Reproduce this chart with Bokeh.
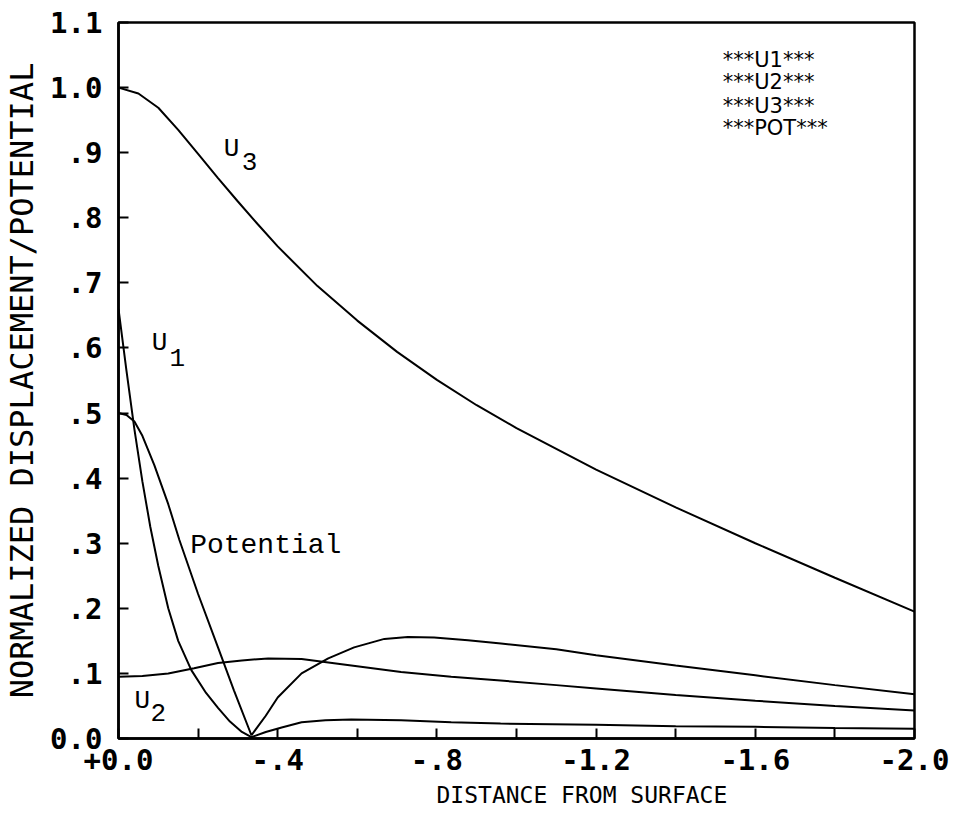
from bokeh.plotting import figure
from bokeh.models import Range1d, FixedTicker, Label, Title
from bokeh.embed import file_html
from bokeh.resources import INLINE

# ---------------- data ----------------
u3_x = [0.0, -0.05, -0.1, -0.15, -0.2, -0.25, -0.3, -0.35, -0.4, -0.5, -0.6, -0.7,
        -0.8, -0.9, -1.0, -1.2, -1.4, -1.6, -1.8, -2.0]
u3_y = [1.0, 0.991, 0.969, 0.935, 0.898, 0.861, 0.825, 0.79, 0.756, 0.695, 0.642, 0.594,
        0.551, 0.512, 0.477, 0.413, 0.355, 0.30, 0.247, 0.195]

pot_x = [0.0, -0.02, -0.04, -0.06, -0.09, -0.125, -0.153, -0.2, -0.25, -0.29, -0.334,
         -0.37, -0.40, -0.46, -0.527, -0.592, -0.668, -0.727, -0.793, -0.878, -0.961,
         -1.1, -1.2, -1.4, -1.6, -1.8, -2.0]
pot_y = [0.5, 0.497, 0.487, 0.465, 0.42, 0.36, 0.305, 0.222, 0.14, 0.074, 0.005,
         0.035, 0.063, 0.10, 0.123, 0.14, 0.153, 0.156, 0.155, 0.151, 0.146,
         0.137, 0.128, 0.112, 0.097, 0.082, 0.068]

u1_x = [0.0, -0.02, -0.04, -0.06, -0.08, -0.10, -0.125, -0.15, -0.183, -0.22, -0.25,
        -0.28, -0.31, -0.334, -0.37, -0.41, -0.46, -0.52, -0.585, -0.71, -0.836,
        -0.96, -1.2, -1.4, -1.6, -1.8, -2.0]
u1_y = [0.66, 0.565, 0.475, 0.395, 0.325, 0.265, 0.2, 0.15, 0.105, 0.07, 0.047,
        0.026, 0.01, 0.002, 0.01, 0.017, 0.025, 0.028, 0.029, 0.028, 0.025,
        0.023, 0.021, 0.019, 0.018, 0.016, 0.015]

u2_x = [0.0, -0.06, -0.125, -0.19, -0.25, -0.31, -0.376, -0.46, -0.585, -0.71,
        -0.836, -0.96, -1.1, -1.2, -1.4, -1.6, -1.8, -2.0]
u2_y = [0.095, 0.096, 0.1, 0.108, 0.116, 0.12, 0.123, 0.122, 0.112, 0.102,
        0.095, 0.089, 0.082, 0.077, 0.067, 0.058, 0.05, 0.043]

x_ticks = [0.0, -0.2, -0.4, -0.6, -0.8, -1.0, -1.2, -1.4, -1.6, -1.8, -2.0]
x_tick_labels = ["+0.0", "", "-.4", "", "-.8", "", "-1.2", "", "-1.6", "", "-2.0"]
y_ticks = [0.0, 0.1, 0.2, 0.3, 0.4, 0.5, 0.6, 0.7, 0.8, 0.9, 1.0, 1.1]
y_tick_labels = ["0.0", ".1", ".2", ".3", ".4", ".5", ".6", ".7", ".8", ".9", "1.0", "1.1"]

x_title = "DISTANCE FROM SURFACE"
y_title = "NORMALIZED DISPLACEMENT/POTENTIAL"
legend_texts = ["***U1***", "***U2***", "***U3***", "***POT***"]

# ---------------- figure ----------------
p = figure(width=954, height=834, output_backend="svg", toolbar_location=None,
           x_range=Range1d(0.0, -2.0), y_range=Range1d(0.0, 1.1),
           min_border_left=117, min_border_right=40, min_border_top=22,
           min_border_bottom=96)
p.background_fill_color = "white"
p.border_fill_color = "white"
p.outline_line_color = "black"
p.outline_line_width = 2.5
p.xgrid.visible = False
p.ygrid.visible = False

TICK_FONT = "DejaVu Sans Mono"

xa = p.xaxis[0]
xa.ticker = FixedTicker(ticks=x_ticks, minor_ticks=[])
xa.major_label_overrides = dict(zip(x_ticks, x_tick_labels))
xa.major_tick_in = 10
xa.major_tick_out = 0
xa.major_tick_line_width = 2
xa.axis_line_width = 2.5
xa.major_label_text_font = TICK_FONT
xa.major_label_text_font_style = "bold"
xa.major_label_text_font_size = "29px"
xa.major_label_text_color = "black"
xa.major_label_standoff = 10

ya = p.yaxis[0]
ya.ticker = FixedTicker(ticks=y_ticks, minor_ticks=[])
ya.major_label_overrides = dict(zip(y_ticks, y_tick_labels))
ya.major_tick_in = 10
ya.major_tick_out = 0
ya.major_tick_line_width = 2
ya.axis_line_width = 2.5
ya.major_label_text_font = TICK_FONT
ya.major_label_text_font_style = "bold"
ya.major_label_text_font_size = "29px"
ya.major_label_text_color = "black"
ya.major_label_standoff = 16
ya.axis_label = y_title
ya.axis_label_text_font = TICK_FONT
ya.axis_label_text_font_style = "normal"
ya.axis_label_text_font_size = "32px"
ya.axis_label_text_color = "black"
ya.axis_label_standoff = 6

# x-axis title, below the axis and shifted right of centre as in the original
p.add_layout(Title(text=x_title, align="left", offset=318, standoff=14,
                   text_font=TICK_FONT, text_font_size="23px",
                   text_font_style="normal", text_color="black"), "below")

LW = 2
p.line(u3_x, u3_y, line_color="black", line_width=LW)
p.line(pot_x, pot_y, line_color="black", line_width=LW)
p.line(u1_x, u1_y, line_color="black", line_width=LW)
p.line(u2_x, u2_y, line_color="black", line_width=LW)

# curve labels (typewriter style, subscript lowered)
LBL_FONT = "Liberation Mono"


def add_lbl(txt, x, y, size="26px"):
    p.add_layout(Label(x=x, y=y, text=txt, text_font=LBL_FONT, text_font_size=size,
                       text_color="black", text_align="center",
                       text_baseline="middle"))


add_lbl("U", -0.284, 0.906)
add_lbl("3", -0.329, 0.886)
add_lbl("U", -0.103, 0.608)
add_lbl("1", -0.148, 0.586)
add_lbl("U", -0.060, 0.058)
add_lbl("2", -0.100, 0.040)
p.add_layout(Label(x=-0.18, y=0.297, text="Potential", text_font=LBL_FONT,
                   text_font_size="28px", text_color="black", text_align="left",
                   text_baseline="middle"))

# legend block at top right
leg_y = [1.043, 1.008, 0.972, 0.938]
for t, yy in zip(legend_texts, leg_y):
    p.add_layout(Label(x=-1.518, y=yy, text=t, text_font="DejaVu Sans",
                       text_font_size="21px", text_color="black", text_align="left",
                       text_baseline="middle"))

open("out.html", "w").write(file_html(p, INLINE))
